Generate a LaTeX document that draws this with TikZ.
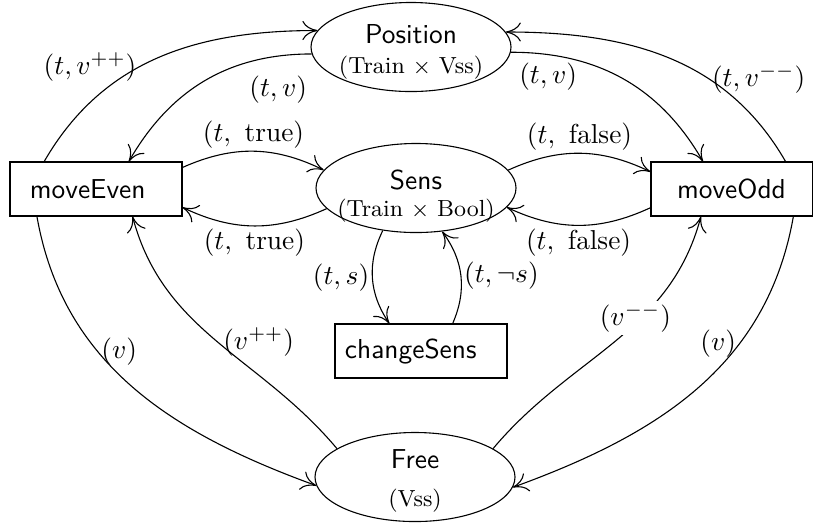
\documentclass[tikz,border=0pt]{standalone}
\usetikzlibrary{shapes.geometric,arrows.meta}
\newcommand{\subtxt}{\fontsize{8.5pt}{10pt}\selectfont}
\begin{document}
\begin{tikzpicture}[x=0.365pt,y=0.365pt,
		place/.style={ellipse,draw,minimum width=73pt,minimum height=32.5pt,inner sep=0pt},
		trans/.style={rectangle,draw,font=\sffamily,minimum height=19.7pt,inner ysep=0pt},
		lbl/.style={inner sep=1pt},
		>={Computer Modern Rightarrow[length=5.5pt,width=7pt]}]
	\useasboundingbox (0,0) rectangle (814,-526);
	% places
	\node[place] (pos) at (411,-47) {};
	\node[align=center] (postext) at (411,-52) {\textsf{Position}\\[-1pt]{\subtxt(Train $\times$ Vss)}};
	\node[place] (sens) at (416,-188) {};
	\node[align=center] (senstext) at (416,-196) {\textsf{Sens}\\[-2pt]{\subtxt(Train $\times$ Bool)}};
	\node[place] (free) at (415,-477) {};
	\node[align=center] (freetext) at (415,-481) {\textsf{Free}\\[2pt]{\subtxt(Vss)}};
	% transitions
	\node[trans,text width=48.2pt,inner xsep=7.3pt,align=left] (moveeven) at (96,-189) {moveEven};
	\node[trans,minimum width=58.8pt,inner xsep=0pt] (moveodd) at (731.5,-189) {moveOdd};
	\node[trans,text width=55.5pt,inner xsep=3.65pt,align=left] (changesens) at (421,-351) {changeSens};
	% arcs
	\draw[->] (moveeven.152) to[out=60,in=180] node[lbl,pos=0.43,left] {$(t,v^{++})$} (pos.170);
	\draw[->] (pos.184) to[out=180,in=60] node[lbl,pos=0.14,below=6pt] {$(t,v)$} (moveeven.40);
	\draw[->] (moveodd.27) to[out=120,in=0] node[lbl,pos=0.35,right] {$(t,v^{--})$} (pos.9);
	\draw[->] (pos.-3) to[out=0,in=120] node[lbl,pos=0.15,below=2pt] {$(t,v)$} (moveodd.136);
	\draw[->] (moveeven.14) to[bend left=25] node[lbl,above] {$(t,\ \mathrm{true})$} (sens.169);
	\draw[->] (sens.193) to[bend left=25] node[lbl,below] {$(t,\ \mathrm{true})$} (moveeven.-12);
	\draw[->] (sens.11) to[bend left=25] node[lbl,above] {$(t,\ \mathrm{false})$} (moveodd.168);
	\draw[->] (moveodd.193) to[bend left=25] node[lbl,below] {$(t,\ \mathrm{false})$} (sens.-12);
	\draw[->] (sens.232) to[bend right=30] node[lbl,left] {$(t,s)$} (changesens.139);
	\draw[->] (changesens.41) to[bend right=30] node[lbl,right] {$(t,\neg s)$} (sens.-59);
	\draw[->] (moveeven.205) to[out=-80,in=160] node[lbl,pos=0.37,right] {$(v)$} (free.185);
	\draw[->] (free.160) to[out=130,in=-75] node[lbl,pos=0.5,right=1pt] {$(v^{++})$} (moveeven.-37);
	\draw[->] (free.20) to[out=50,in=-105] node[lbl,fill=white,pos=0.62,xshift=-2pt] {$(v^{--})$} (moveodd.222);
	\draw[->] (moveodd.-24) to[out=-100,in=20] node[lbl,pos=0.34,left] {$(v)$} (free.-6);
\end{tikzpicture}
\end{document}
